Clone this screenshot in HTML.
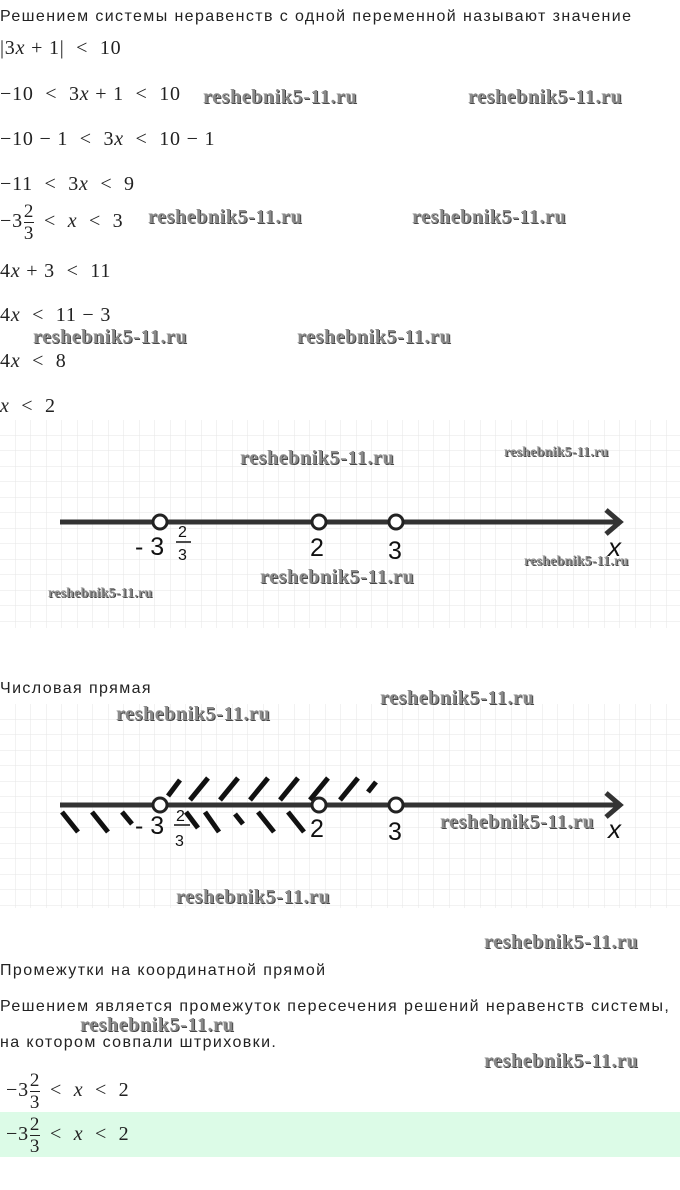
<!DOCTYPE html>
<html><head><meta charset="utf-8"><style>
body{margin:0;width:680px;height:1190px;position:relative;background:#fff;overflow:hidden;font-family:"Liberation Sans",sans-serif;color:#222}
.t{position:absolute;left:0;font-size:16px;letter-spacing:1.4px;white-space:nowrap}
.m{position:absolute;font-family:"Liberation Serif",serif;font-size:20px;letter-spacing:0.8px;word-spacing:0px;white-space:nowrap;color:#222}
.m i{font-style:italic}
.w{position:absolute;font-family:"Liberation Serif",serif;font-weight:bold;font-size:20px;letter-spacing:0.6px;color:#8a8a8a;text-shadow:1px 1px 0 #444;white-space:nowrap}
.ws{font-size:14px;letter-spacing:0.2px}
.fr{display:inline-block;vertical-align:middle;text-align:center;font-size:19px;line-height:21px;margin:0 4px 0 1px}
.fr span{display:block}
.fr span:first-child{border-bottom:1px solid #222}
</style></head><body>
<div class="t" style="top:8px">Решением системы неравенств с одной переменной называют значение</div>
<div class="m" style="top:37px;left:0">|3<i>x</i> + 1| &nbsp;&lt;&nbsp; 10</div>
<div class="m" style="top:83px;left:0">−10 &nbsp;&lt;&nbsp; 3<i>x</i> + 1 &nbsp;&lt;&nbsp; 10</div>
<div class="m" style="top:128px;left:0">−10 − 1 &nbsp;&lt;&nbsp; 3<i>x</i> &nbsp;&lt;&nbsp; 10 − 1</div>
<div class="m" style="top:173px;left:0">−11 &nbsp;&lt;&nbsp; 3<i>x</i> &nbsp;&lt;&nbsp; 9</div>
<div class="m" style="top:201px;left:0">−3<span class="fr"><span>2</span><span>3</span></span> &lt;&nbsp; <i>x</i> &nbsp;&lt;&nbsp; 3</div>
<div class="m" style="top:260px;left:0">4<i>x</i> + 3 &nbsp;&lt;&nbsp; 11</div>
<div class="m" style="top:304px;left:0">4<i>x</i> &nbsp;&lt;&nbsp; 11 − 3</div>
<div class="m" style="top:350px;left:0">4<i>x</i> &nbsp;&lt;&nbsp; 8</div>
<div class="m" style="top:395px;left:0"><i>x</i> &nbsp;&lt;&nbsp; 2</div>

<svg style="position:absolute;left:0;top:420px" width="680" height="210">
<defs><pattern id="g" width="15.5" height="15.5" patternUnits="userSpaceOnUse" x="0" y="0"><path d="M15.5 0V15.5M0 15.5H15.5" stroke="#e6e6e6" stroke-width="1" fill="none"/></pattern></defs>
<rect width="680" height="208" fill="url(#g)"/>
<line x1="60" y1="102" x2="618" y2="102" stroke="#333" stroke-width="5"/>
<path d="M606 90 L620 102 L606 114" stroke="#333" stroke-width="5" fill="none"/>
<circle cx="160" cy="102" r="7" fill="#fff" stroke="#222" stroke-width="3"/>
<circle cx="319" cy="102" r="7" fill="#fff" stroke="#222" stroke-width="3"/>
<circle cx="396" cy="102" r="7" fill="#fff" stroke="#222" stroke-width="3"/>
<g font-family="Liberation Sans,sans-serif" fill="#111">
<text x="135" y="135" font-size="25">- 3</text>
<text x="178" y="117" font-size="16">2</text><line x1="176" y1="122" x2="191" y2="122" stroke="#111" stroke-width="1.5"/><text x="178" y="140" font-size="16">3</text>
<text x="310" y="136" font-size="25">2</text>
<text x="388" y="139" font-size="25">3</text>
<text x="608" y="136" font-size="26" font-style="italic">x</text>
</g></svg>

<div class="t" style="top:680px">Числовая прямая</div>
<svg style="position:absolute;left:0;top:704px" width="680" height="206">
<rect width="680" height="204" fill="url(#g)"/>
<g stroke="#111" stroke-width="5">
<path d="M168 92l12-16M190 96l18-22M220 96l18-22M250 96l18-22M280 96l18-22M310 96l18-22M340 96l18-22M368 88l8-10"/>
<path d="M62 108l16 20M92 108l16 20M122 108l10 12M186 108l12 16M205 108l14 20M235 110l8 10M258 108l16 20M288 108l16 20"/>
</g>
<line x1="60" y1="101" x2="618" y2="101" stroke="#333" stroke-width="5"/>
<path d="M606 89 L620 101 L606 113" stroke="#333" stroke-width="5" fill="none"/>
<circle cx="160" cy="101" r="7" fill="#fff" stroke="#222" stroke-width="3"/>
<circle cx="319" cy="101" r="7" fill="#fff" stroke="#222" stroke-width="3"/>
<circle cx="396" cy="101" r="7" fill="#fff" stroke="#222" stroke-width="3"/>
<g font-family="Liberation Sans,sans-serif" fill="#111">
<text x="135" y="130" font-size="25">- 3</text>
<text x="176" y="117" font-size="16">2</text><line x1="174" y1="121" x2="190" y2="121" stroke="#111" stroke-width="1.5"/><text x="175" y="142" font-size="16">3</text>
<text x="310" y="133" font-size="25">2</text>
<text x="388" y="136" font-size="25">3</text>
<text x="608" y="134" font-size="26" font-style="italic">x</text>
</g></svg>

<div class="t" style="top:962px">Промежутки на координатной прямой</div>
<div class="t" style="top:998px">Решением является промежуток пересечения решений неравенств системы,</div>
<div class="t" style="top:1034px">на котором совпали штриховки.</div>
<div class="m" style="top:1070px;left:6px">−3<span class="fr"><span>2</span><span>3</span></span> &lt;&nbsp; <i>x</i> &nbsp;&lt;&nbsp; 2</div>
<div style="position:absolute;left:0;top:1112px;width:680px;height:45px;background:#dcfbe7"></div>
<div class="m" style="top:1114px;left:6px">−3<span class="fr"><span>2</span><span>3</span></span> &lt;&nbsp; <i>x</i> &nbsp;&lt;&nbsp; 2</div>

<div class="w" style="left:203px;top:86px">reshebnik5-11.ru</div>
<div class="w" style="left:468px;top:86px">reshebnik5-11.ru</div>
<div class="w" style="left:148px;top:206px">reshebnik5-11.ru</div>
<div class="w" style="left:412px;top:206px">reshebnik5-11.ru</div>
<div class="w" style="left:33px;top:326px">reshebnik5-11.ru</div>
<div class="w" style="left:297px;top:326px">reshebnik5-11.ru</div>
<div class="w" style="left:240px;top:447px">reshebnik5-11.ru</div>
<div class="w ws" style="left:504px;top:445px">reshebnik5-11.ru</div>
<div class="w" style="left:260px;top:566px">reshebnik5-11.ru</div>
<div class="w ws" style="left:524px;top:554px">reshebnik5-11.ru</div>
<div class="w ws" style="left:48px;top:586px">reshebnik5-11.ru</div>
<div class="w" style="left:380px;top:687px">reshebnik5-11.ru</div>
<div class="w" style="left:116px;top:703px">reshebnik5-11.ru</div>
<div class="w" style="left:440px;top:811px">reshebnik5-11.ru</div>
<div class="w" style="left:176px;top:886px">reshebnik5-11.ru</div>
<div class="w" style="left:484px;top:931px">reshebnik5-11.ru</div>
<div class="w" style="left:80px;top:1014px">reshebnik5-11.ru</div>
<div class="w" style="left:484px;top:1050px">reshebnik5-11.ru</div>
</body></html>
